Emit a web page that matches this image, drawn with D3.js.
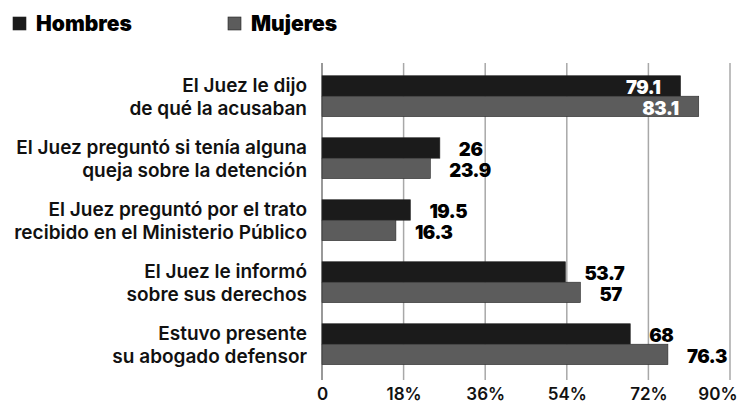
<!DOCTYPE html>
<html>
<head>
<meta charset="utf-8">
<script src="https://cdn.jsdelivr.net/npm/d3@7"></script>
<style>
  html, body { margin: 0; padding: 0; background: #fff; }
  svg { display: block; }
  text { font-family: Inter, Roboto, "Noto Sans", sans-serif; }
</style>
</head>
<body>
<svg id="chart" width="738" height="403"></svg>
<script>
const categories = [
  ["El Juez le dijo", "de qué la acusaban"],
  ["El Juez preguntó si tenía alguna", "queja sobre la detención"],
  ["El Juez preguntó por el trato", "recibido en el Ministerio Público"],
  ["El Juez le informó", "sobre sus derechos"],
  ["Estuvo presente", "su abogado defensor"]
];
const seriesNames = ["Hombres", "Mujeres"];
const hombres = [79.1, 26, 19.5, 53.7, 68];
const mujeres = [83.1, 23.9, 16.3, 57, 76.3];
const tickValues = [0, 18, 36, 54, 72, 90];
const tickLabels = ["0", "18%", "36%", "54%", "72%", "90%"];
const colors = ["#1b1b1b", "#5c5c5c"];

const svg = d3.select("#chart");
const catKeys = categories.map((c, i) => i);

const x = d3.scaleLinear().domain([0, 90]).range([322, 730]);
const y = d3.scaleBand().domain(catKeys).range([65.2, 375.2]).paddingInner(0.34).paddingOuter(0.17);
const ySub = d3.scaleBand().domain(seriesNames).range([0, y.bandwidth()]);

// gridlines
const gridTop = 63, gridBottom = 380;
svg.append("g").selectAll("line")
  .data(tickValues)
  .join("line")
  .attr("x1", d => x(d)).attr("x2", d => x(d))
  .attr("y1", gridTop).attr("y2", gridBottom)
  .attr("stroke", d => d === 0 ? "#777" : "#a8a8a8")
  .attr("stroke-width", 1.5);

// x axis labels
const xAxis = d3.axisBottom(x).tickValues(tickValues)
  .tickFormat((d, i) => tickLabels[i]).tickSize(0).tickPadding(0);
const ax = svg.append("g").attr("transform", `translate(0,${gridBottom})`).call(xAxis);
ax.select(".domain").remove();
ax.selectAll("text")
  .attr("y", 20).attr("dy", 0)
  .attr("fill", "#111")
  .style("font-size", "17px").style("font-weight", 600)
  .style("font-family", "Inter, Roboto, sans-serif");
ax.selectAll(".tick").filter(d => d === 90).select("text")
  .attr("text-anchor", "end").attr("x", 7);

// bars
const data = [];
catKeys.forEach(i => {
  data.push({cat: i, s: "Hombres", v: hombres[i], c: colors[0]});
  data.push({cat: i, s: "Mujeres", v: mujeres[i], c: colors[1]});
});

svg.append("g").selectAll("rect")
  .data(data)
  .join("rect")
  .attr("x", x(0))
  .attr("y", d => y(d.cat) + ySub(d.s))
  .attr("width", d => x(d.v) - x(0))
  .attr("height", ySub.bandwidth())
  .attr("fill", d => d.c)
  .attr("stroke", "#2a2a2a")
  .attr("stroke-width", 0.6);

// value labels
svg.append("g").selectAll("text")
  .data(data)
  .join("text")
  .attr("x", d => d.cat === 0 ? x(d.v) - 20 : x(d.v) + 19)
  .attr("y", d => y(d.cat) + ySub(d.s) + ySub.bandwidth() - 2)
  .attr("text-anchor", d => d.cat === 0 ? "end" : "start")
  .attr("fill", d => d.cat === 0 ? "#fff" : "#000")
  .style("font-size", "18.5px").style("font-weight", 900)
  .style("letter-spacing", "-0.4px")
  .text(d => d.v);

// category labels
const lab = svg.append("g").selectAll("text")
  .data(catKeys)
  .join("text")
  .attr("text-anchor", "end")
  .attr("fill", "#111")
  .style("font-size", "19px").style("font-weight", 600);
lab.each(function(i) {
  const t = d3.select(this);
  const cy = y(i) + y.bandwidth() / 2;
  categories[i].forEach((line, k) => {
    t.append("tspan").attr("x", 307).attr("y", cy - 4.5 + k * 23).text(line);
  });
});

// legend
const leg = svg.append("g").selectAll("g")
  .data(seriesNames)
  .join("g")
  .attr("transform", (d, i) => `translate(${i === 0 ? 13 : 228},0)`);
leg.append("rect").attr("x", 0).attr("y", 17).attr("width", 13).attr("height", 13)
  .attr("fill", (d, i) => colors[i]).attr("stroke", "#222").attr("stroke-width", 0.6);
leg.append("text").attr("x", 23).attr("y", 30.5)
  .attr("fill", "#000")
  .style("font-size", "21px").style("font-weight", 900)
  .text(d => d);
</script>
</body>
</html>
